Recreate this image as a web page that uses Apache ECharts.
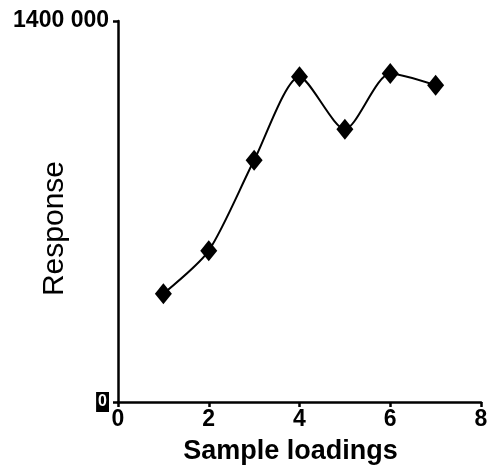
<!DOCTYPE html>
<html><head><meta charset="utf-8">
<script src="https://cdn.jsdelivr.net/npm/echarts@6/dist/echarts.min.js"></script>
<style>html,body{margin:0;padding:0;background:#fff}#c{width:489px;height:469px}</style>
</head><body><div id="c"></div>
<script>
const sampleLoadings = [1, 2, 3, 4, 5, 6, 7];
const responseValues = [398000, 556000, 888000, 1195000, 1002000, 1207000, 1164000];
const xTicks = [0, 2, 4, 6, 8];
const yTicks = [0, 1400000];

const chart = echarts.init(document.getElementById('c'));
chart.setOption({
  animation: false,
  grid: { left: 118, right: 8, top: 21, bottom: 67, containLabel: false, outerBoundsMode: 'none' },
  xAxis: {
    type: 'value', min: xTicks[0], max: xTicks[xTicks.length - 1], interval: 2,
    name: 'Sample loadings', nameLocation: 'middle', nameGap: 36, nameMoveOverlap: false,
    nameTextStyle: { fontFamily: 'Liberation Sans', fontWeight: 'bold', fontSize: 27, color: '#000', padding: [0, 18, 0, 0] },
    axisLine: { lineStyle: { color: '#000', width: 2.5 } },
    axisTick: { show: true, length: 5, lineStyle: { color: '#000', width: 2.5 } },
    axisLabel: { fontFamily: 'Liberation Sans', fontWeight: 'bold', fontSize: 23, color: '#000', margin: 6 },
    splitLine: { show: false }
  },
  yAxis: {
    type: 'value', min: yTicks[0], max: yTicks[1], interval: yTicks[1],
    name: 'Response', nameLocation: 'middle', nameGap: 48, nameMoveOverlap: false,
    nameTextStyle: { fontFamily: 'Liberation Sans', fontSize: 30, color: '#000', padding: [0, 34, 0, 0] },
    axisLine: { show: true, lineStyle: { color: '#000', width: 2.5 } },
    axisTick: { show: true, length: 5, lineStyle: { color: '#000', width: 2.5 } },
    axisLabel: {
      margin: 9, color: '#000',
      formatter: function (v) { return v === 0 ? '{z|0}' : '{t|' + String(v).replace(/(\d)(\d{3})$/, '$1 $2') + '}'; },
      rich: {
        t: { fontFamily: 'Liberation Sans', fontWeight: 'bold', fontSize: 23, color: '#000' },
        z: { fontFamily: 'Liberation Sans', fontWeight: 'bold', fontSize: 16, color: '#fff', backgroundColor: '#000', padding: [2, 2, 2, 2] }
      }
    },
    splitLine: { show: false }
  },
  series: [{
    type: 'line',
    data: sampleLoadings.map((x, i) => [x, responseValues[i]]),
    smooth: 0.25,
    symbol: 'diamond', symbolSize: [17, 21],
    lineStyle: { color: '#000', width: 2 },
    itemStyle: { color: '#000' }
  }]
});
</script></body></html>
